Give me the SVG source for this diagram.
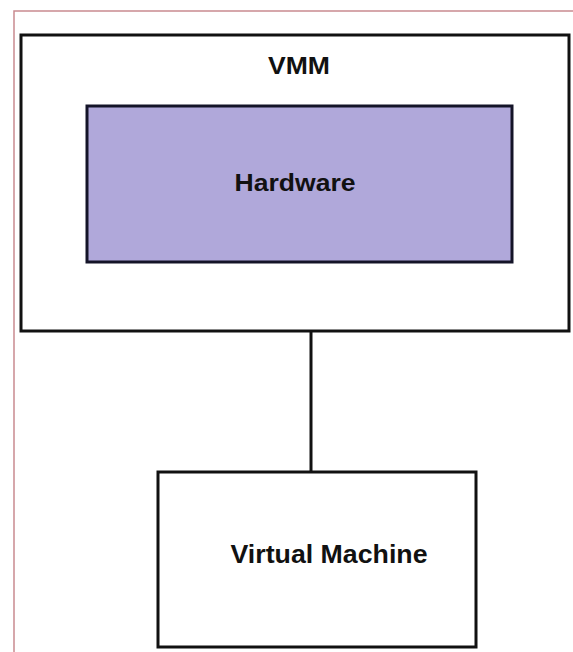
<svg xmlns="http://www.w3.org/2000/svg" width="573" height="652" viewBox="0 0 573 652">
<style>
.box{fill:#ffffff;stroke:#111111;stroke-width:3}
.hw{fill:#b0a8da;stroke:#141428;stroke-width:3}
.lbl{font-family:"Liberation Sans",Arial,sans-serif;font-weight:bold;text-anchor:middle;fill:#111111}
.conn{stroke:#111111;stroke-width:3;fill:none}
</style>
<rect width="573" height="652" fill="#ffffff"/>
<path d="M14,660 V11 H580" fill="none" stroke="#c98a90" stroke-width="1.5"/>
<g id="vmm">
<rect class="box" x="21" y="35" width="548" height="296"/>
<text class="lbl" x="299" y="74" font-size="23" textLength="62" lengthAdjust="spacingAndGlyphs">VMM</text>
</g>
<g id="hardware">
<rect class="hw" x="87" y="106" width="425" height="156"/>
<text class="lbl" x="295" y="191" font-size="23" textLength="121" lengthAdjust="spacingAndGlyphs" fill="#1a1a3a">Hardware</text>
</g>
<g id="virtual-machine">
<rect class="box" x="158" y="472" width="318" height="175"/>
<text class="lbl" x="329" y="563" font-size="25" textLength="197" lengthAdjust="spacingAndGlyphs">Virtual Machine</text>
</g>
<g id="connectors">
<line class="conn" x1="311" y1="331" x2="311" y2="472"/>
</g>
</svg>
